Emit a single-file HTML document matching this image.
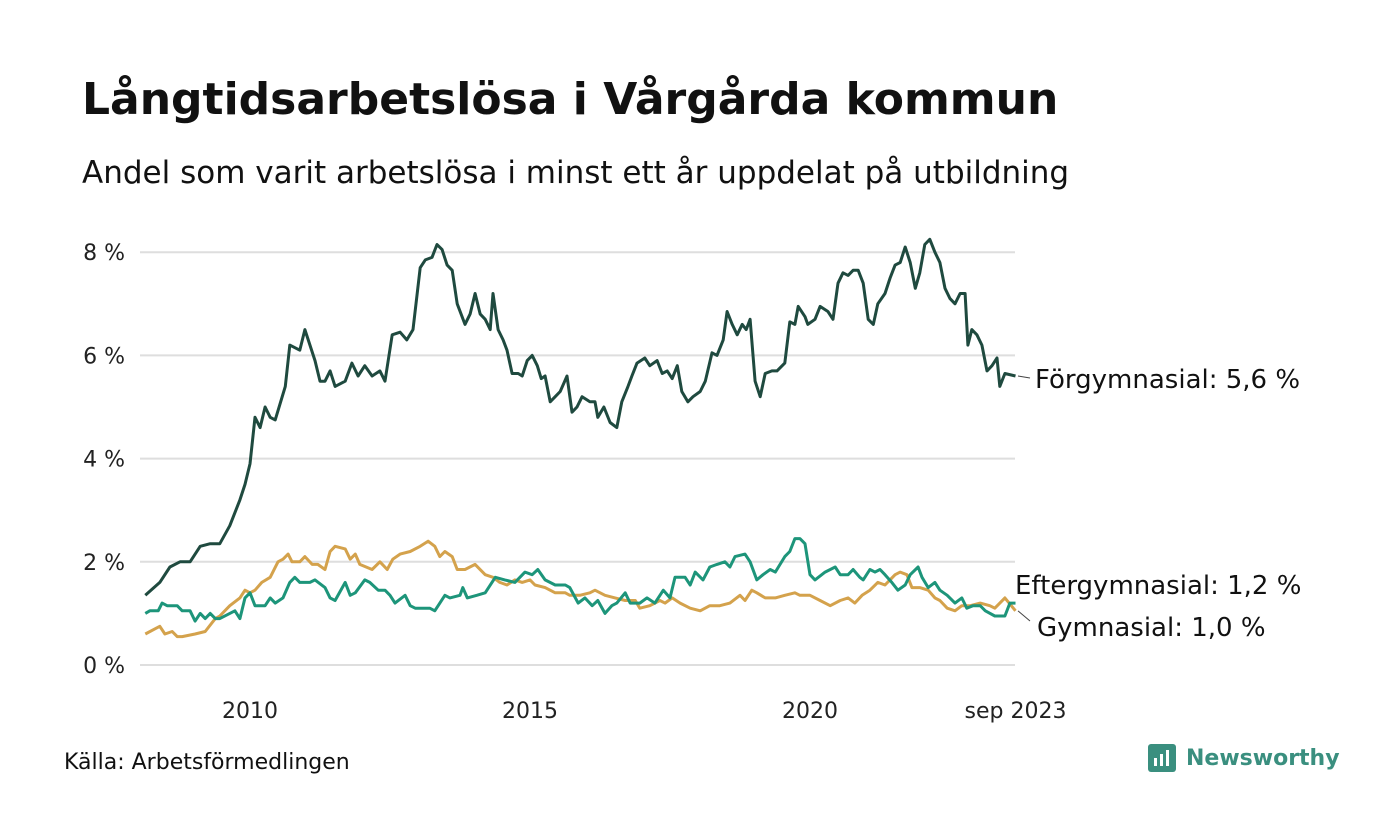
<!DOCTYPE html>
<html><head><meta charset="utf-8"><style>
body{margin:0;background:#fff;font-family:"DejaVu Sans","Liberation Sans",sans-serif;color:#111}
#wrap{position:relative;width:1400px;height:840px;overflow:hidden}
h1{position:absolute;left:82px;top:74px;margin:0;font-size:44px;font-weight:bold}
h2{position:absolute;left:82px;top:155px;margin:0;font-size:31px;font-weight:normal}
#src{position:absolute;left:64px;top:750px;font-size:22px}
#logo{position:absolute;left:1148px;top:744px;font-size:22px;font-weight:bold;color:#3a8f7f;display:flex;align-items:center;gap:10px}
#logo .ic{width:28px;height:28px;background:#3a8f7f;border-radius:3px;position:relative}
</style></head><body><div id="wrap">
<h1>Långtidsarbetslösa i Vårgårda kommun</h1>
<h2>Andel som varit arbetslösa i minst ett år uppdelat på utbildning</h2>
<svg id="chart" width="1400" height="840" style="position:absolute;left:0;top:0"></svg>
<div id="src">Källa: Arbetsförmedlingen</div>
<div id="logo"><div class="ic"><svg width="28" height="28"><rect x="6" y="14" width="3" height="8" fill="#fff"/><rect x="12" y="10" width="3" height="12" fill="#fff"/><rect x="18" y="6" width="3" height="16" fill="#fff"/></svg></div>Newsworthy</div>
<script>
const yTicks=[0,2,4,6,8];
const xTicks=[2010,2015,2020,2023.67];
const xTickLabels=["2010","2015","2020","sep 2023"];
const forgT=[2008.13,2008.39,2008.57,2008.75,2008.93,2009.11,2009.29,2009.46,2009.64,2009.82,2009.91,2010.00,2010.09,2010.18,2010.27,2010.36,2010.45,2010.63,2010.71,2010.89,2010.98,2011.16,2011.25,2011.34,2011.43,2011.52,2011.70,2011.82,2011.93,2012.05,2012.18,2012.32,2012.41,2012.54,2012.68,2012.80,2012.91,2013.04,2013.13,2013.25,2013.34,2013.43,2013.52,2013.61,2013.70,2013.84,2013.93,2014.02,2014.11,2014.20,2014.29,2014.34,2014.43,2014.52,2014.59,2014.68,2014.79,2014.86,2014.95,2015.04,2015.13,2015.20,2015.27,2015.36,2015.45,2015.54,2015.66,2015.75,2015.84,2015.93,2016.07,2016.16,2016.21,2016.32,2016.43,2016.55,2016.64,2016.75,2016.82,2016.91,2017.05,2017.14,2017.27,2017.36,2017.45,2017.54,2017.63,2017.71,2017.82,2017.91,2018.04,2018.13,2018.25,2018.34,2018.45,2018.52,2018.61,2018.70,2018.79,2018.86,2018.93,2019.02,2019.11,2019.20,2019.32,2019.41,2019.55,2019.64,2019.73,2019.79,2019.91,2019.96,2020.09,2020.18,2020.32,2020.41,2020.50,2020.59,2020.68,2020.77,2020.86,2020.95,2021.04,2021.13,2021.21,2021.34,2021.43,2021.52,2021.61,2021.70,2021.79,2021.88,2021.96,2022.05,2022.14,2022.23,2022.32,2022.41,2022.50,2022.59,2022.68,2022.77,2022.82,2022.89,2022.98,2023.07,2023.16,2023.25,2023.34,2023.39,2023.48,2023.67];
const forgV=[1.35,1.6,1.9,2.0,2.0,2.3,2.35,2.35,2.7,3.2,3.5,3.9,4.8,4.6,5.0,4.8,4.75,5.4,6.2,6.1,6.5,5.9,5.5,5.5,5.7,5.4,5.5,5.85,5.6,5.8,5.6,5.7,5.5,6.4,6.45,6.3,6.5,7.7,7.85,7.9,8.15,8.05,7.75,7.65,7.0,6.6,6.8,7.2,6.8,6.7,6.5,7.2,6.5,6.3,6.1,5.65,5.65,5.6,5.9,6.0,5.8,5.55,5.6,5.1,5.2,5.3,5.6,4.9,5.0,5.2,5.1,5.1,4.8,5.0,4.7,4.6,5.1,5.4,5.6,5.85,5.95,5.8,5.9,5.65,5.7,5.55,5.8,5.3,5.1,5.2,5.3,5.5,6.05,6.0,6.3,6.85,6.6,6.4,6.6,6.5,6.7,5.5,5.2,5.65,5.7,5.7,5.85,6.65,6.6,6.95,6.75,6.6,6.7,6.95,6.85,6.7,7.4,7.6,7.55,7.65,7.65,7.4,6.7,6.6,7.0,7.2,7.5,7.75,7.8,8.1,7.8,7.3,7.6,8.15,8.25,8.0,7.8,7.3,7.1,7.0,7.2,7.2,6.2,6.5,6.4,6.2,5.7,5.8,5.95,5.4,5.65,5.6];
const eftT=[2008.13,2008.21,2008.36,2008.43,2008.52,2008.70,2008.79,2008.93,2009.02,2009.11,2009.20,2009.29,2009.38,2009.46,2009.64,2009.73,2009.82,2009.91,2010.00,2010.09,2010.27,2010.36,2010.45,2010.59,2010.71,2010.80,2010.89,2011.07,2011.16,2011.34,2011.43,2011.52,2011.70,2011.79,2011.88,2012.05,2012.14,2012.29,2012.41,2012.50,2012.59,2012.77,2012.86,2012.95,2013.21,2013.30,2013.48,2013.57,2013.75,2013.80,2013.88,2014.05,2014.20,2014.38,2014.55,2014.73,2014.91,2015.04,2015.14,2015.27,2015.45,2015.63,2015.71,2015.86,2015.98,2016.11,2016.21,2016.34,2016.46,2016.55,2016.70,2016.79,2016.96,2017.09,2017.23,2017.38,2017.50,2017.59,2017.77,2017.86,2017.95,2018.09,2018.21,2018.34,2018.48,2018.57,2018.66,2018.84,2018.93,2019.05,2019.16,2019.29,2019.38,2019.55,2019.64,2019.73,2019.82,2019.91,2020.00,2020.09,2020.27,2020.45,2020.54,2020.68,2020.77,2020.89,2020.95,2021.07,2021.16,2021.25,2021.34,2021.46,2021.57,2021.70,2021.79,2021.93,2022.00,2022.11,2022.23,2022.32,2022.45,2022.59,2022.71,2022.80,2022.91,2023.04,2023.13,2023.30,2023.48,2023.57,2023.67];
const eftV=[1.0,1.05,1.05,1.2,1.15,1.15,1.05,1.05,0.85,1.0,0.9,1.0,0.9,0.9,1.0,1.05,0.9,1.3,1.4,1.15,1.15,1.3,1.2,1.3,1.6,1.7,1.6,1.6,1.65,1.5,1.3,1.25,1.6,1.35,1.4,1.65,1.6,1.45,1.45,1.35,1.2,1.35,1.15,1.1,1.1,1.05,1.35,1.3,1.35,1.5,1.3,1.35,1.4,1.7,1.65,1.6,1.8,1.75,1.85,1.65,1.55,1.55,1.5,1.2,1.3,1.15,1.25,1.0,1.15,1.2,1.4,1.2,1.2,1.3,1.2,1.45,1.3,1.7,1.7,1.55,1.8,1.65,1.9,1.95,2.0,1.9,2.1,2.15,2.0,1.65,1.75,1.85,1.8,2.1,2.2,2.45,2.45,2.35,1.75,1.65,1.8,1.9,1.75,1.75,1.85,1.7,1.65,1.85,1.8,1.85,1.75,1.6,1.45,1.55,1.75,1.9,1.7,1.5,1.6,1.45,1.35,1.2,1.3,1.1,1.15,1.15,1.05,0.95,0.95,1.2,1.2];
const gymT=[2008.13,2008.30,2008.39,2008.48,2008.61,2008.70,2008.79,2009.02,2009.20,2009.38,2009.46,2009.64,2009.82,2009.91,2010.00,2010.09,2010.21,2010.36,2010.50,2010.59,2010.68,2010.75,2010.89,2010.98,2011.11,2011.21,2011.34,2011.43,2011.52,2011.70,2011.79,2011.88,2011.96,2012.18,2012.32,2012.45,2012.55,2012.68,2012.86,2013.04,2013.18,2013.30,2013.39,2013.48,2013.61,2013.70,2013.84,2014.02,2014.20,2014.34,2014.46,2014.59,2014.73,2014.86,2015.00,2015.09,2015.27,2015.45,2015.63,2015.71,2015.89,2016.07,2016.16,2016.34,2016.52,2016.70,2016.88,2016.96,2017.14,2017.32,2017.41,2017.54,2017.68,2017.86,2018.04,2018.21,2018.39,2018.57,2018.75,2018.84,2018.96,2019.05,2019.20,2019.38,2019.55,2019.73,2019.82,2020.00,2020.18,2020.36,2020.54,2020.68,2020.80,2020.93,2021.07,2021.21,2021.34,2021.52,2021.61,2021.73,2021.82,2021.96,2022.11,2022.23,2022.32,2022.45,2022.59,2022.71,2022.86,2023.04,2023.21,2023.30,2023.48,2023.67];
const gymV=[0.6,0.7,0.75,0.6,0.65,0.55,0.55,0.6,0.65,0.9,0.95,1.15,1.3,1.45,1.4,1.45,1.6,1.7,2.0,2.05,2.15,2.0,2.0,2.1,1.95,1.95,1.85,2.2,2.3,2.25,2.05,2.15,1.95,1.85,2.0,1.85,2.05,2.15,2.2,2.3,2.4,2.3,2.1,2.2,2.1,1.85,1.85,1.95,1.75,1.7,1.6,1.55,1.65,1.6,1.65,1.55,1.5,1.4,1.4,1.35,1.35,1.4,1.45,1.35,1.3,1.25,1.25,1.1,1.15,1.25,1.2,1.3,1.2,1.1,1.05,1.15,1.15,1.2,1.35,1.25,1.45,1.4,1.3,1.3,1.35,1.4,1.35,1.35,1.25,1.15,1.25,1.3,1.2,1.35,1.45,1.6,1.55,1.75,1.8,1.75,1.5,1.5,1.45,1.3,1.25,1.1,1.05,1.15,1.15,1.2,1.15,1.1,1.3,1.05];
const svg=document.getElementById('chart');const NS='http://www.w3.org/2000/svg';
const X=t=>250+(t-2010)*56, Y=v=>665-v*51.6;
function mk(tag,a){const e=document.createElementNS(NS,tag);for(const k in a)e.setAttribute(k,a[k]);svg.appendChild(e);return e;}
yTicks.forEach(v=>{const g=mk('line',{x1:140,x2:1015,y1:Y(v),y2:Y(v),stroke:'#dedede','stroke-width':2});


const t=mk('text',{x:125,y:Y(v)+8,'text-anchor':'end','font-size':22,fill:'#222'});t.textContent=v+' %';

});
xTicks.forEach((v,i)=>{const t=mk('text',{x:X(v),y:718,'text-anchor':'middle','font-size':22,fill:'#222'});t.textContent=xTickLabels[i];

});
function line(T,V,c,n){const p=mk('path',{d:T.map((t,i)=>(i?'L':'M')+X(t).toFixed(1)+','+Y(V[i]).toFixed(1)).join(''),fill:'none',stroke:c,'stroke-width':3,'stroke-linejoin':'round'});

}
line(gymT,gymV,'#d4a24c','gymnasial-line');
line(eftT,eftV,'#1d957a','eftergymnasial-line');
line(forgT,forgV,'#1f4a3f','forgymnasial-line');
function lab(txt,x,y,ly,ey,n){mk('line',{x1:1018,y1:ey,x2:1030,y2:ly,stroke:'#444','stroke-width':1});
const t=mk('text',{x:x,y:y,'font-size':26,fill:'#111'});t.textContent=txt;

}
lab('Förgymnasial: 5,6 %',1035,388,378,Y(forgV[forgV.length-1]),'forgymnasial-label');
const e=mk('text',{x:1015,y:594,'font-size':26,fill:'#111'});e.textContent='Eftergymnasial: 1,2 %';


lab('Gymnasial: 1,0 %',1037,636,621,Y(gymV[gymV.length-1]),'gymnasial-label');
</script></div></body></html>
